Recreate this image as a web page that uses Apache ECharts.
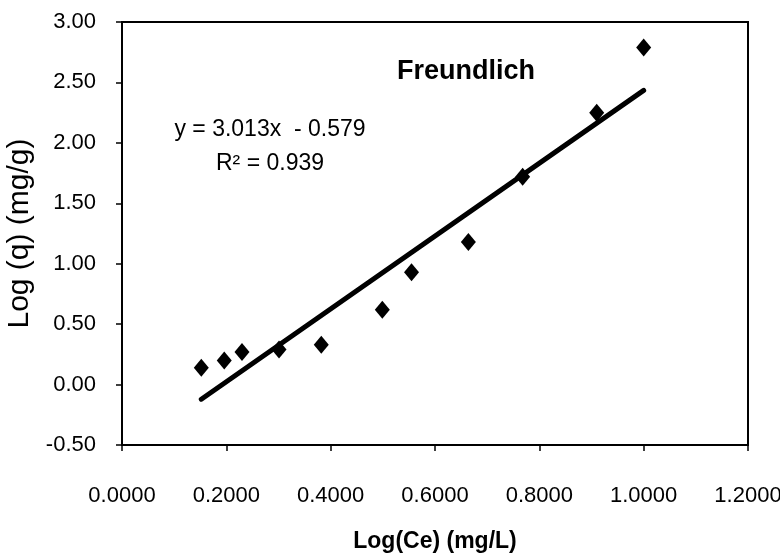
<!DOCTYPE html>
<html>
<head>
<meta charset="utf-8">
<script src="https://cdn.jsdelivr.net/npm/echarts@6/dist/echarts.min.js"></script>
<style>html,body{margin:0;padding:0;background:#fff;}#c{width:780px;height:554px;}</style>
</head>
<body>
<div id="c"></div>
<script>
const logCe = [0.152, 0.196, 0.230, 0.301, 0.382, 0.499, 0.555, 0.664, 0.768, 0.910, 1.000];
const logQ  = [0.14, 0.20, 0.27, 0.29, 0.33, 0.62, 0.93, 1.18, 1.72, 2.25, 2.79];
const trendX = [0.152, 1.000];
const trendY = [-0.121, 2.434];
const equationText = 'y = 3.013x  - 0.579';
const r2Text = 'R² = 0.939';
const chartTitle = 'Freundlich';
const xTitle = 'Log(Ce) (mg/L)';
const yTitle = 'Log (q) (mg/g)';

const font = '"Liberation Sans", Arial, sans-serif';
const chart = echarts.init(document.getElementById('c'));
chart.setOption({
  animation: false,
  backgroundColor: '#fff',
  grid: { left: 122, right: 32, top: 22, bottom: 109, show: true, borderColor: '#000', borderWidth: 2, outerBoundsMode: 'none', containLabel: false },
  xAxis: {
    type: 'value', min: 0, max: 1.2, interval: 0.2,
    name: xTitle, nameLocation: 'middle', nameGap: 85,
    nameTextStyle: { fontFamily: font, fontSize: 23, fontWeight: 'bold', color: '#000' },
    axisLine: { show: true, onZero: false, lineStyle: { color: '#000', width: 2 } },
    axisTick: { show: true, length: 6, lineStyle: { color: '#000', width: 1.5 } },
    axisLabel: { margin: 40, fontFamily: font, fontSize: 22, color: '#000', hideOverlap: false, formatter: v => v.toFixed(4) },
    splitLine: { show: false }
  },
  yAxis: {
    type: 'value', min: -0.5, max: 3, interval: 0.5,
    name: yTitle, nameLocation: 'middle', nameGap: 86, nameRotate: 90,
    nameTextStyle: { fontFamily: font, fontSize: 30, fontWeight: 'normal', color: '#000' },
    axisLine: { show: true, onZero: false, lineStyle: { color: '#000', width: 2 } },
    axisTick: { show: true, length: 6, lineStyle: { color: '#000', width: 1.5 } },
    axisLabel: { margin: 26, fontFamily: font, fontSize: 22, color: '#000', formatter: v => v.toFixed(2) },
    splitLine: { show: false }
  },
  series: [
    {
      type: 'line', data: trendX.map((x, i) => [x, trendY[i]]),
      symbol: 'none', lineStyle: { color: '#000', width: 5, cap: 'round' }, z: 2
    },
    {
      type: 'scatter', data: logCe.map((x, i) => [x, logQ[i]]),
      symbol: 'diamond', symbolSize: [15, 18], itemStyle: { color: '#000', opacity: 1 }, z: 3
    }
  ],
  graphic: [
    { type: 'text', x: 466, y: 72, style: { text: chartTitle, font: 'bold 27px ' + font, fill: '#000', textAlign: 'center', textVerticalAlign: 'middle' } },
    { type: 'text', x: 270, y: 130, style: { text: equationText, font: '23px ' + font, fill: '#000', textAlign: 'center', textVerticalAlign: 'middle' } },
    { type: 'text', x: 270, y: 164, style: { text: r2Text, font: '23px ' + font, fill: '#000', textAlign: 'center', textVerticalAlign: 'middle' } }
  ]
});
</script>
</body>
</html>
